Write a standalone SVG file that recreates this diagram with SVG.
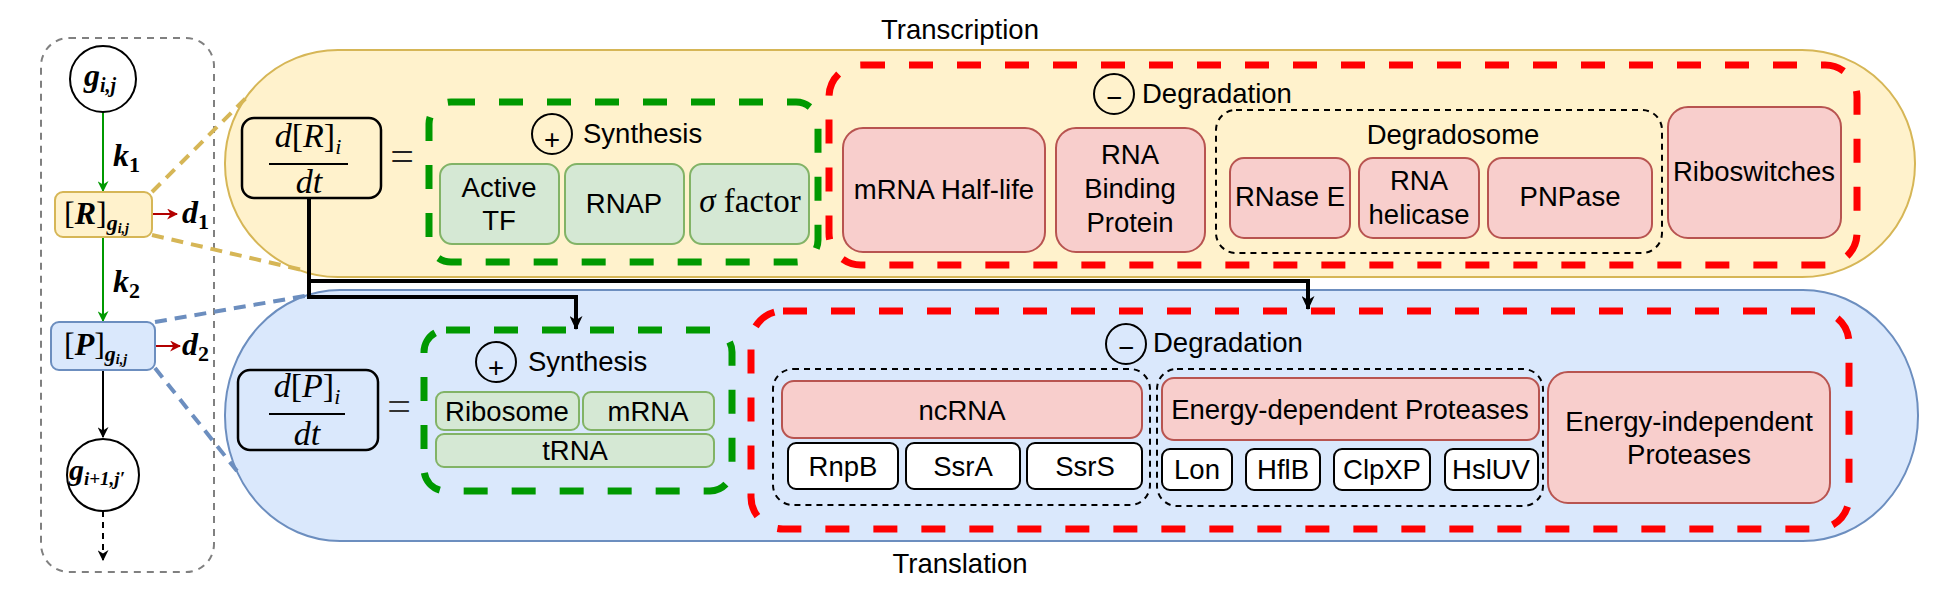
<svg xmlns="http://www.w3.org/2000/svg" width="1945" height="600" viewBox="0 0 1945 600">
<style>
.t{font-family:"Liberation Sans",Arial,sans-serif;font-size:27.5px;fill:#000;text-anchor:middle}
.ts{text-anchor:start}
.m{font-family:"Liberation Serif","DejaVu Serif",serif;font-style:italic;fill:#000}
.mb{font-weight:bold}
.pk{fill:#f8cecc;stroke:#b85450;stroke-width:2}
.gr{fill:#d5e8d4;stroke:#82b366;stroke-width:2}
.wb{fill:#fff;stroke:#000;stroke-width:2}
.grp{fill:none;stroke:#000;stroke-width:2;stroke-dasharray:6 5}
.gdash{fill:none;stroke:#009900;stroke-width:7;stroke-dasharray:24 24}
.rdash{fill:none;stroke:#ff0000;stroke-width:7;stroke-dasharray:24 24}
.sym{fill:none;stroke:#000;stroke-width:2}
.conn{fill:none;stroke:#000;stroke-width:4}
</style>
<defs>
<marker id="ag" viewBox="0 0 10 10" refX="9" refY="5" markerWidth="11" markerHeight="11" markerUnits="userSpaceOnUse" orient="auto"><path d="M0,0 L10,5 L0,10 L3,5 Z" fill="#009900"/></marker>
<marker id="ar" viewBox="0 0 10 10" refX="9" refY="5" markerWidth="11" markerHeight="11" markerUnits="userSpaceOnUse" orient="auto"><path d="M0,0 L10,5 L0,10 L3,5 Z" fill="#b20000"/></marker>
<marker id="ab" viewBox="0 0 10 10" refX="9" refY="5" markerWidth="11" markerHeight="11" markerUnits="userSpaceOnUse" orient="auto"><path d="M0,0 L10,5 L0,10 L3,5 Z" fill="#000"/></marker>
<marker id="abk" viewBox="0 0 14 13" refX="13" refY="6.5" markerWidth="14" markerHeight="13" markerUnits="userSpaceOnUse" orient="auto"><path d="M0,0 L14,6.5 L0,13 L4,6.5 Z" fill="#000"/></marker>
</defs>
<rect width="1945" height="600" fill="#fff"/>

<g id="left-panel">
<rect x="41" y="38" width="173" height="534" rx="28" fill="none" stroke="#808080" stroke-width="2" stroke-dasharray="7 6"/>
</g>

<g id="transcription-pill">
<rect x="225" y="50" width="1690" height="227" rx="113" ry="113" fill="#fff2cc" stroke="#d6b656" stroke-width="2"/>
<text class="t" x="960" y="39">Transcription</text>
</g>
<g id="translation-pill">
<rect x="225" y="290" width="1693" height="251" rx="115" ry="125" fill="#dae8fc" stroke="#6c8ebf" stroke-width="2"/>
<text class="t" x="960" y="573">Translation</text>
</g>

<g id="connectors">
<line x1="152" y1="192" x2="246" y2="98" stroke="#d6b656" stroke-width="4" stroke-dasharray="12 8"/>
<line x1="152" y1="235" x2="302" y2="270" stroke="#d6b656" stroke-width="4" stroke-dasharray="12 8"/>
<line x1="155" y1="322" x2="305" y2="296" stroke="#6c8ebf" stroke-width="4" stroke-dasharray="12 8"/>
<line x1="155" y1="368" x2="237" y2="471" stroke="#6c8ebf" stroke-width="4" stroke-dasharray="12 8"/>
<line x1="103" y1="112" x2="103" y2="191" stroke="#009900" stroke-width="2" marker-end="url(#ag)"/>
<line x1="152" y1="214" x2="177" y2="214" stroke="#b20000" stroke-width="2" marker-end="url(#ar)"/>
<line x1="103" y1="237" x2="103" y2="321" stroke="#009900" stroke-width="2" marker-end="url(#ag)"/>
<line x1="155" y1="346" x2="180" y2="346" stroke="#b20000" stroke-width="2" marker-end="url(#ar)"/>
<line x1="103" y1="370" x2="103" y2="437" stroke="#000" stroke-width="2" marker-end="url(#ab)"/>
<line x1="103" y1="511" x2="103" y2="560" stroke="#000" stroke-width="2" stroke-dasharray="6 5" marker-end="url(#ab)"/>
<path class="conn" d="M309,198 L309,297 L576,297 L576,329" marker-end="url(#abk)"/>
<path class="conn" d="M309,281 L1308,281 L1308,309" marker-end="url(#abk)"/>
</g>

<g id="node-gij">
<circle cx="103" cy="79" r="33" fill="#fff" stroke="#000" stroke-width="2"/>
<text class="m mb" x="84" y="86" font-size="32">g<tspan font-size="20" dy="6">i,j</tspan></text>
</g>
<g id="label-k1"><text class="m mb" x="113" y="166" font-size="32">k<tspan font-size="22" font-style="normal" dy="6">1</tspan></text></g>
<g id="node-R">
<rect x="55" y="192" width="97" height="45" rx="8" fill="#fff2cc" stroke="#d6b656" stroke-width="2"/>
<text class="m mb" x="64" y="224" font-size="32"><tspan font-style="normal" font-weight="normal">[</tspan>R<tspan font-style="normal" font-weight="normal">]</tspan><tspan font-size="22" dy="6">g</tspan><tspan font-size="14" dy="3">i,j</tspan></text>
</g>
<g id="label-d1"><text class="m mb" x="182" y="223" font-size="32">d<tspan font-size="22" font-style="normal" dy="6">1</tspan></text></g>
<g id="label-k2"><text class="m mb" x="113" y="292" font-size="32">k<tspan font-size="22" font-style="normal" dy="6">2</tspan></text></g>
<g id="node-P">
<rect x="51" y="322" width="104" height="48" rx="8" fill="#dae8fc" stroke="#6c8ebf" stroke-width="2"/>
<text class="m mb" x="64" y="355" font-size="32"><tspan font-style="normal" font-weight="normal">[</tspan>P<tspan font-style="normal" font-weight="normal">]</tspan><tspan font-size="22" dy="6">g</tspan><tspan font-size="14" dy="3">i,j</tspan></text>
</g>
<g id="label-d2"><text class="m mb" x="182" y="355" font-size="32">d<tspan font-size="22" font-style="normal" dy="6">2</tspan></text></g>
<g id="node-gi1j">
<circle cx="103" cy="475" r="36" fill="#fff" stroke="#000" stroke-width="2"/>
<text class="m mb" x="69" y="480" font-size="30">g<tspan font-size="19" dy="5">i+1,j′</tspan></text>
</g>

<g id="eq-R">
<rect x="242" y="118" width="139" height="80" rx="12" fill="none" stroke="#000" stroke-width="2.5"/>
<text class="m" x="308" y="147" font-size="34" text-anchor="middle">d<tspan font-style="normal">[</tspan>R<tspan font-style="normal">]</tspan><tspan font-size="22" dy="7">i</tspan></text>
<line x1="269" y1="164" x2="348" y2="164" stroke="#000" stroke-width="2"/>
<text class="m" x="309" y="193" font-size="34" text-anchor="middle">dt</text>
<text x="402" y="170" font-family="Liberation Serif,serif" font-size="42" text-anchor="middle" fill="#222">=</text>
</g>

<g id="tx-synthesis">
<rect class="gdash" x="429" y="102" width="389" height="160" rx="22"/>
<circle class="sym" cx="552" cy="134" r="20"/>
<text class="t" x="552" y="149" font-size="42">+</text>
<text class="t ts" x="583" y="143">Synthesis</text>
<g id="active-tf"><rect class="gr" x="440" y="164" width="119" height="80" rx="12"/><text class="t" x="499" y="197">Active</text><text class="t" x="499" y="230">TF</text></g>
<g id="rnap"><rect class="gr" x="565" y="164" width="119" height="80" rx="12"/><text class="t" x="624" y="213">RNAP</text></g>
<g id="sigma"><rect class="gr" x="690" y="164" width="119" height="80" rx="12"/><text x="750" y="212" font-family="Liberation Serif,serif" font-size="33" text-anchor="middle"><tspan font-style="italic">σ</tspan> factor</text></g>
</g>

<g id="tx-degradation">
<rect class="rdash" x="829" y="65" width="1028" height="200" rx="32"/>
<circle class="sym" cx="1114" cy="94" r="20"/>
<text class="t" x="1114" y="107" font-size="38">−</text>
<text class="t ts" x="1142" y="103">Degradation</text>
<g id="mrna-halflife"><rect class="pk" x="843" y="128" width="202" height="124" rx="20"/><text class="t" x="944" y="199">mRNA Half-life</text></g>
<g id="rna-bp"><rect class="pk" x="1056" y="128" width="149" height="124" rx="20"/><text class="t" x="1130" y="164">RNA</text><text class="t" x="1130" y="198">Binding</text><text class="t" x="1130" y="232">Protein</text></g>
<g id="degradosome">
<rect class="grp" x="1216" y="110" width="446" height="143" rx="20"/>
<text class="t" x="1453" y="144">Degradosome</text>
<g id="rnase-e"><rect class="pk" x="1230" y="158" width="120" height="80" rx="14"/><text class="t" x="1290" y="206">RNase E</text></g>
<g id="rna-helicase"><rect class="pk" x="1359" y="158" width="120" height="80" rx="14"/><text class="t" x="1419" y="190">RNA</text><text class="t" x="1419" y="224">helicase</text></g>
<g id="pnpase"><rect class="pk" x="1488" y="158" width="164" height="80" rx="14"/><text class="t" x="1570" y="206">PNPase</text></g>
</g>
<g id="riboswitches"><rect class="pk" x="1668" y="107" width="173" height="131" rx="20"/><text class="t" x="1754" y="181">Riboswitches</text></g>
</g>

<g id="eq-P">
<rect x="238" y="370" width="140" height="80" rx="12" fill="none" stroke="#000" stroke-width="2.5"/>
<text class="m" x="307" y="397" font-size="34" text-anchor="middle">d<tspan font-style="normal">[</tspan>P<tspan font-style="normal">]</tspan><tspan font-size="22" dy="7">i</tspan></text>
<line x1="269" y1="414" x2="345" y2="414" stroke="#000" stroke-width="2"/>
<text class="m" x="307" y="445" font-size="34" text-anchor="middle">dt</text>
<text x="399" y="420" font-family="Liberation Serif,serif" font-size="42" text-anchor="middle" fill="#333">=</text>
</g>

<g id="tl-synthesis">
<rect class="gdash" x="424" y="330" width="308" height="161" rx="22"/>
<circle class="sym" cx="496" cy="362" r="20"/>
<text class="t" x="496" y="377" font-size="42">+</text>
<text class="t ts" x="528" y="371">Synthesis</text>
<g id="ribosome"><rect class="gr" x="436" y="392" width="143" height="38" rx="8"/><text class="t" x="507" y="421">Ribosome</text></g>
<g id="mrna"><rect class="gr" x="583" y="392" width="131" height="38" rx="8"/><text class="t" x="648" y="421">mRNA</text></g>
<g id="trna"><rect class="gr" x="436" y="434" width="278" height="33" rx="8"/><text class="t" x="575" y="460">tRNA</text></g>
</g>

<g id="tl-degradation">
<rect class="rdash" x="751" y="311" width="1098" height="218" rx="32"/>
<circle class="sym" cx="1126" cy="344" r="20"/>
<text class="t" x="1126" y="357" font-size="38">−</text>
<text class="t ts" x="1153" y="352">Degradation</text>
<g id="ncrna-group">
<rect class="grp" x="773" y="369" width="377" height="136" rx="20"/>
<g id="ncrna"><rect class="pk" x="782" y="381" width="360" height="57" rx="12"/><text class="t" x="962" y="420">ncRNA</text></g>
<g id="rnpb"><rect class="wb" x="788" y="443" width="110" height="46" rx="8"/><text class="t" x="843" y="476">RnpB</text></g>
<g id="ssra"><rect class="wb" x="906" y="443" width="114" height="46" rx="8"/><text class="t" x="963" y="476">SsrA</text></g>
<g id="ssrs"><rect class="wb" x="1027" y="443" width="115" height="46" rx="8"/><text class="t" x="1085" y="476">SsrS</text></g>
</g>
<g id="edp-group">
<rect class="grp" x="1157" y="369" width="386" height="137" rx="20"/>
<g id="edp"><rect class="pk" x="1162" y="378" width="377" height="62" rx="12"/><text class="t" x="1350" y="419">Energy-dependent Proteases</text></g>
<g id="lon"><rect class="wb" x="1162" y="449" width="70" height="41" rx="8"/><text class="t" x="1197" y="479">Lon</text></g>
<g id="hflb"><rect class="wb" x="1246" y="449" width="74" height="41" rx="8"/><text class="t" x="1283" y="479">HflB</text></g>
<g id="clpxp"><rect class="wb" x="1334" y="449" width="96" height="41" rx="8"/><text class="t" x="1382" y="479">ClpXP</text></g>
<g id="hsluv"><rect class="wb" x="1445" y="449" width="93" height="41" rx="8"/><text class="t" x="1491" y="479">HslUV</text></g>
</g>
<g id="eip"><rect class="pk" x="1548" y="372" width="282" height="131" rx="20"/><text class="t" x="1689" y="431">Energy-independent</text><text class="t" x="1689" y="464">Proteases</text></g>
</g>
</svg>
